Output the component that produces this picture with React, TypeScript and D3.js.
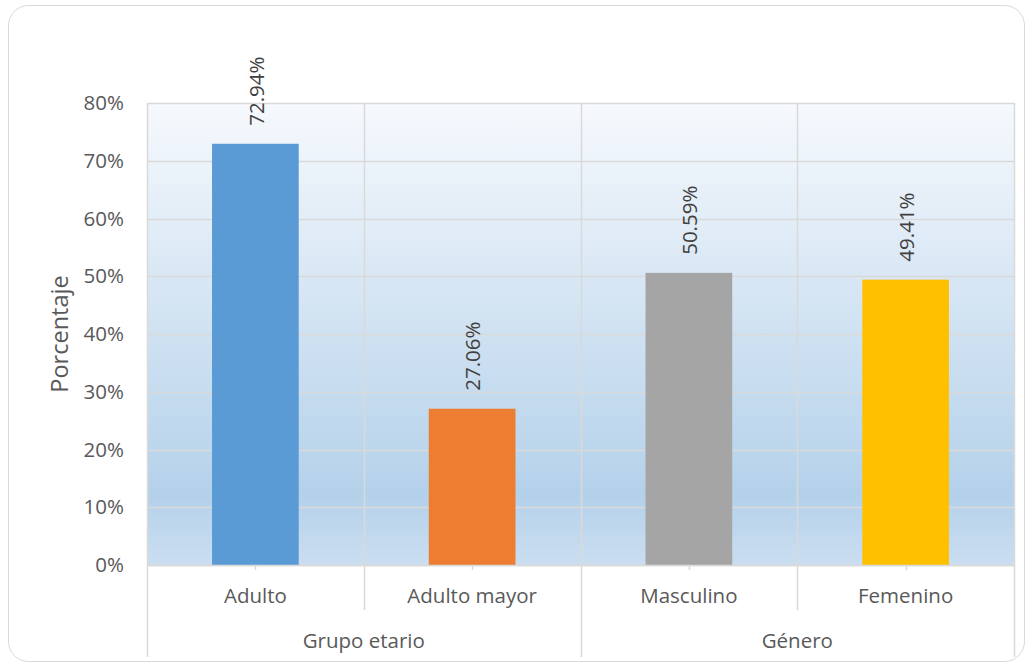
import { useEffect, useRef } from 'react'
import * as d3 from 'd3'

const categories = ['Adulto', 'Adulto mayor', 'Masculino', 'Femenino']
const groups = ['Grupo etario', 'Género']
const groupOf = [0, 0, 1, 1]
const values = [72.94, 27.06, 50.59, 49.41]
const colors = ['#5b9bd5', '#ed7d31', '#a5a5a5', '#ffc000']
const yTicks = [0, 10, 20, 30, 40, 50, 60, 70, 80]

export default function App() {
  const svgRef = useRef<SVGSVGElement>(null)

  useEffect(() => {
    const svg = d3.select(svgRef.current)
    svg.selectAll('*').remove()

    const W = 1032
    const H = 667
    const left = 147, right = 1014, top = 103, bottom = 565
    const font = '"Open Sans", sans-serif'
    const fs = 20.5
    const textColor = '#595959'
    const gridColor = '#d9d9d9'

    svg.attr('width', W).attr('height', H)

    // outer frame
    svg.append('rect')
      .attr('x', 8.5).attr('y', 5.5)
      .attr('width', 1016).attr('height', 656)
      .attr('rx', 20).attr('ry', 20)
      .attr('fill', '#ffffff')
      .attr('stroke', gridColor)

    // plot background gradient
    const defs = svg.append('defs')
    const grad = defs.append('linearGradient')
      .attr('id', 'bg').attr('x1', 0).attr('y1', 0).attr('x2', 0).attr('y2', 1)
    grad.append('stop').attr('offset', '0%').attr('stop-color', '#f6f9fd')
    grad.append('stop').attr('offset', '85%').attr('stop-color', '#b4d1ea')
    grad.append('stop').attr('offset', '100%').attr('stop-color', '#cbdef1')

    const x = d3.scaleBand().domain(categories).range([left, right]).padding(0)
    const y = d3.scaleLinear().domain([0, 80]).range([bottom, top])

    svg.append('rect')
      .attr('x', left).attr('y', top)
      .attr('width', right - left).attr('height', bottom - top)
      .attr('fill', 'url(#bg)')

    // horizontal gridlines
    svg.append('g')
      .selectAll('line')
      .data(yTicks)
      .enter()
      .append('line')
      .attr('x1', left).attr('x2', right)
      .attr('y1', d => Math.round(y(d)) + 0.5)
      .attr('y2', d => Math.round(y(d)) + 0.5)
      .attr('stroke', gridColor)
      .attr('stroke-width', 1.5)

    // vertical gridlines at category boundaries
    const bounds = categories.map(c => x(c) || 0).concat([right])
    svg.append('g')
      .selectAll('line')
      .data(bounds)
      .enter()
      .append('line')
      .attr('x1', d => Math.round(d) + 0.5).attr('x2', d => Math.round(d) + 0.5)
      .attr('y1', top).attr('y2', bottom)
      .attr('stroke', gridColor)
      .attr('stroke-width', 1.5)

    // bars
    const barW = x.bandwidth() * 0.4
    svg.append('g')
      .selectAll('rect')
      .data(values)
      .enter()
      .append('rect')
      .attr('x', (d, i) => (x(categories[i]) || 0) + (x.bandwidth() - barW) / 2)
      .attr('y', d => y(d))
      .attr('width', barW)
      .attr('height', d => bottom - y(d))
      .attr('fill', (d, i) => colors[i])

    // value labels
    svg.append('g')
      .selectAll('text')
      .data(values)
      .enter()
      .append('text')
      .attr('transform', (d, i) => {
        const cx = (x(categories[i]) || 0) + x.bandwidth() / 2
        return `translate(${cx + 1},${y(d) - 18}) rotate(-90)`
      })
      .attr('dy', '0.35em')
      .attr('text-anchor', 'start')
      .attr('font-family', font)
      .attr('font-size', fs)
      .attr('fill', '#404040')
      .text(d => `${d.toFixed(2)}%`)

    // y tick labels
    svg.append('g')
      .selectAll('text')
      .data(yTicks)
      .enter()
      .append('text')
      .attr('x', 124)
      .attr('y', d => y(d))
      .attr('dy', '0.35em')
      .attr('text-anchor', 'end')
      .attr('font-family', font)
      .attr('font-size', fs)
      .attr('fill', textColor)
      .text(d => `${d}%`)

    // axis title
    svg.append('text')
      .attr('transform', `translate(60,${(top + bottom) / 2}) rotate(-90)`)
      .attr('dy', '0.35em')
      .attr('text-anchor', 'middle')
      .attr('font-family', font)
      .attr('font-size', 23.5)
      .attr('fill', textColor)
      .text('Porcentaje')

    // multi-level category axis
    const axis = svg.append('g')
    axis.append('line')
      .attr('x1', left).attr('x2', right)
      .attr('y1', bottom + 0.5).attr('y2', bottom + 0.5)
      .attr('stroke', gridColor).attr('stroke-width', 1.5)

    // small ticks under category centers
    axis.selectAll('.ctick')
      .data(categories)
      .enter()
      .append('line')
      .attr('class', 'ctick')
      .attr('x1', d => Math.round((x(d) || 0) + x.bandwidth() / 2) + 0.5)
      .attr('x2', d => Math.round((x(d) || 0) + x.bandwidth() / 2) + 0.5)
      .attr('y1', bottom).attr('y2', bottom + 5)
      .attr('stroke', gridColor).attr('stroke-width', 1.5)

    // boundaries between categories inside a group (short) and between groups (long)
    bounds.forEach((b, i) => {
      const isGroupEdge = i === 0 || i === bounds.length - 1 || groupOf[i] !== groupOf[i - 1]
      axis.append('line')
        .attr('x1', Math.round(b) + 0.5).attr('x2', Math.round(b) + 0.5)
        .attr('y1', bottom).attr('y2', isGroupEdge ? 657 : 610)
        .attr('stroke', gridColor).attr('stroke-width', 1.5)
    })

    axis.selectAll('.clabel')
      .data(categories)
      .enter()
      .append('text')
      .attr('class', 'clabel')
      .attr('x', d => (x(d) || 0) + x.bandwidth() / 2)
      .attr('y', 596)
      .attr('dy', '0.35em')
      .attr('text-anchor', 'middle')
      .attr('font-family', font)
      .attr('font-size', fs)
      .attr('fill', textColor)
      .text(d => d)

    groups.forEach((g, gi) => {
      const members = categories.filter((c, i) => groupOf[i] === gi)
      const x0 = x(members[0]) || 0
      const x1 = (x(members[members.length - 1]) || 0) + x.bandwidth()
      axis.append('text')
        .attr('x', (x0 + x1) / 2)
        .attr('y', 641)
        .attr('dy', '0.35em')
        .attr('text-anchor', 'middle')
        .attr('font-family', font)
        .attr('font-size', fs)
        .attr('fill', textColor)
        .text(g)
    })
  }, [])

  return (
    <div style={{ position: 'absolute', left: 0, top: 0 }}>
      <svg ref={svgRef} style={{ display: 'block' }}></svg>
    </div>
  )
}
